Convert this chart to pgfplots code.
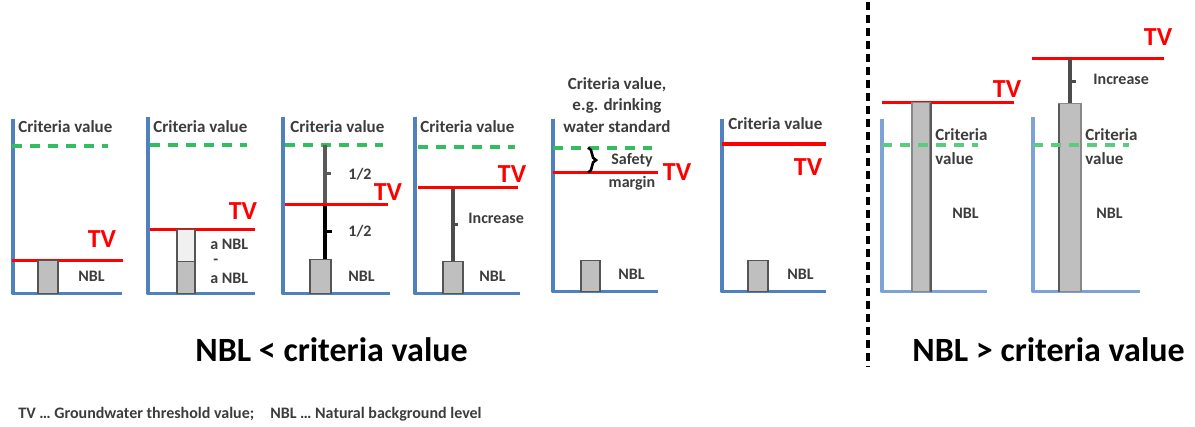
\documentclass[border=0pt]{standalone}
\usepackage{fontspec}
\setmainfont{Carlito}
\usepackage{pgfplots}
\pgfplotsset{compat=1.18}
\usetikzlibrary{decorations.pathreplacing}
\definecolor{axblue}{RGB}{79,129,189}
\definecolor{axblue2}{RGB}{125,163,214}
\definecolor{tvred}{RGB}{255,0,0}
\definecolor{crgreen}{RGB}{50,190,95}
\definecolor{barfill}{RGB}{191,191,191}
\definecolor{bardraw}{RGB}{85,85,85}
\definecolor{txt}{RGB}{60,60,60}
\begin{document}
\begin{tikzpicture}[
  blueax/.style={axblue, line width=1.6pt, line join=round},
  blueax2/.style={axblue2, line width=1.6pt, line join=round},
  tvline/.style={tvred, line width=1.5pt},
  critline/.style={crgreen, line width=2pt, dash pattern=on 5pt off 4pt},
  bar/.style={fill=barfill, draw=bardraw, line width=0.8pt},
  vline/.style={black!70, line width=1.8pt},
  lab/.style={text=txt, font=\fontsize{8}{9}\selectfont\bfseries, inner sep=0pt},
  crit/.style={text=txt, font=\fontsize{8.5}{10}\selectfont\bfseries, inner sep=0pt},
  tv/.style={text=tvred, font=\fontsize{13}{14}\selectfont\bfseries, inner sep=0pt},
]
\begin{axis}[
  scale only axis, width=597.5pt, height=212.5pt,
  xmin=0, xmax=1195, ymin=0, ymax=425, y dir=reverse,
  hide axis, clip=false,
  every axis plot/.append style={forget plot},
]
\addplot[draw=none] coordinates {(0,0)(1195,425)};

% ---------- Panel 1
\addplot[blueax] coordinates {(13,117)(13,292)(122,292)};
\addplot[critline] coordinates {(12,144)(108,144)};
\addplot[tvline] coordinates {(12,259)(123,259)};
\addplot[bar] coordinates {(38,259)(58,259)(58,292)(38,292)} -- cycle;
\node[crit, anchor=west] at (18,125) {Criteria value};
\node[tv] at (102,237) {TV};
\node[lab, anchor=west] at (78,275) {NBL};

% ---------- Panel 2
\addplot[blueax] coordinates {(148,115)(148,292)(255,292)};
\addplot[critline] coordinates {(150,143)(247,143)};
\addplot[tvline] coordinates {(150,228)(255,228)};
\addplot[bar, fill=gray!12] coordinates {(177,228)(195,228)(195,260)(177,260)} -- cycle;
\addplot[bar] coordinates {(177,260)(195,260)(195,292)(177,292)} -- cycle;
\node[crit, anchor=west] at (153,125) {Criteria value};
\node[tv] at (243,209) {TV};
\node[lab, anchor=west] at (210,243) {a NBL};
\node[lab, anchor=west] at (213,260) {-};
\node[lab, anchor=west] at (210,277) {a NBL};

% ---------- Panel 3
\addplot[blueax] coordinates {(283,115)(283,292)(390,292)};
\addplot[critline] coordinates {(285,143)(383,143)};
\addplot[vline, black!65] coordinates {(325,143)(325,203)};
\addplot[black, line width=2.4pt] coordinates {(325,203)(325,258)};
\addplot[black!65, line width=1.2pt] coordinates {(325,172)(331,172)};
\addplot[black, line width=1.2pt] coordinates {(325,230)(332,230)};
\addplot[tvline] coordinates {(285,203)(388,203)};
\addplot[bar] coordinates {(310,258)(331,258)(331,292)(310,292)} -- cycle;
\node[crit, anchor=west] at (290,125) {Criteria value};
\node[tv] at (388,190) {TV};
\node[lab, anchor=west] at (348,173) {1/2};
\node[lab, anchor=west] at (348,230) {1/2};
\node[lab, anchor=west] at (348,275) {NBL};

% ---------- Panel 4
\addplot[blueax] coordinates {(415,115)(415,292)(520,292)};
\addplot[critline] coordinates {(418,145)(515,145)};
\addplot[vline] coordinates {(453,186)(453,260)};
\addplot[black!70, line width=1.2pt] coordinates {(453,223)(458,223)};
\addplot[tvline] coordinates {(418,186)(518,186)};
\addplot[bar] coordinates {(443,260)(463,260)(463,292)(443,292)} -- cycle;
\node[crit, anchor=west] at (420,125) {Criteria value};
\node[tv] at (512,172) {TV};
\node[lab, anchor=west] at (468,217) {Increase};
\node[lab, anchor=west] at (479,275) {NBL};

% ---------- Panel 5
\addplot[blueax] coordinates {(553,117)(553,290)(658,290)};
\addplot[critline] coordinates {(553,146)(652,146)};
\addplot[tvline] coordinates {(553,171)(658,171)};
\addplot[black, line width=1.3pt, decorate, decoration={brace, amplitude=4pt}] coordinates {(588,146)(588,171)};
\addplot[bar] coordinates {(581,259)(600,259)(600,290)(581,290)} -- cycle;
\node[crit, anchor=center] at (617,83) {Criteria value,};
\node[crit, anchor=center] at (617,104) {e.g. drinking};
\node[crit, anchor=center] at (617,125) {water standard};
\node[tv] at (677,170) {TV};
\node[lab, anchor=center] at (632,159) {Safety};
\node[lab, anchor=center] at (632,182) {margin};
\node[lab, anchor=west] at (618,273) {NBL};

% ---------- Panel 6
\addplot[blueax] coordinates {(722,117)(722,290)(826,290)};
\addplot[critline] coordinates {(722,142)(815,142)};
\addplot[tvred, line width=2pt] coordinates {(722,142)(826,142)};
\addplot[bar] coordinates {(748,259)(768,259)(768,290)(748,290)} -- cycle;
\node[crit, anchor=west] at (728,122) {Criteria value};
\node[tv] at (808,165) {TV};
\node[lab, anchor=west] at (787,273) {NBL};

% ---------- Divider
\addplot[black, line width=1.6pt, dash pattern=on 4pt off 2.5pt] coordinates {(868,0)(868,365)};

% ---------- Panel 7
\addplot[blueax2] coordinates {(882,117)(882,290)(987,290)};
\addplot[tvline] coordinates {(882,101)(1014,101)};
\addplot[bar, draw=bardraw!70] coordinates {(912,101)(930,101)(930,290)(912,290)} -- cycle;
\addplot[black!65, line width=1.4pt] coordinates {(931,101)(931,290)};
\addplot[critline, crgreen!80] coordinates {(882,143)(978,143)};
\node[tv] at (1007,87) {TV};
\node[crit, anchor=west] at (935,133) {Criteria};
\node[crit, anchor=west] at (935,157) {value};
\node[lab, anchor=west] at (952,212) {NBL};

% ---------- Panel 8
\addplot[blueax2] coordinates {(1033,115)(1033,290)(1140,290)};
\addplot[tvline] coordinates {(1032,57)(1164,57)};
\addplot[vline] coordinates {(1070,57)(1070,102)};
\addplot[black!70, line width=1.2pt] coordinates {(1070,80)(1076,80)};
\addplot[bar, draw=bardraw!70] coordinates {(1059,102)(1081,102)(1081,290)(1059,290)} -- cycle;
\addplot[black!65, line width=1.2pt] coordinates {(1059,102)(1059,290)};
\addplot[critline, crgreen!80] coordinates {(1033,143)(1129,143)};
\node[tv] at (1158,35) {TV};
\node[lab, anchor=west] at (1093,78) {Increase};
\node[crit, anchor=west] at (1085,133) {Criteria};
\node[crit, anchor=west] at (1085,157) {value};
\node[lab, anchor=west] at (1096,212) {NBL};

% ---------- Titles
\node[anchor=base west, inner sep=0pt, font=\fontsize{17}{20}\selectfont\bfseries] at (195,360) {NBL < criteria value};
\node[anchor=base west, inner sep=0pt, font=\fontsize{17}{20}\selectfont\bfseries] at (912,360) {NBL > criteria value};
\node[anchor=base west, inner sep=0pt, text=txt, font=\fontsize{8}{9}\selectfont\bfseries] at (18,417) {TV \dots\ Groundwater threshold value;\quad NBL \dots\ Natural background level};
\end{axis}
\end{tikzpicture}
\end{document}
